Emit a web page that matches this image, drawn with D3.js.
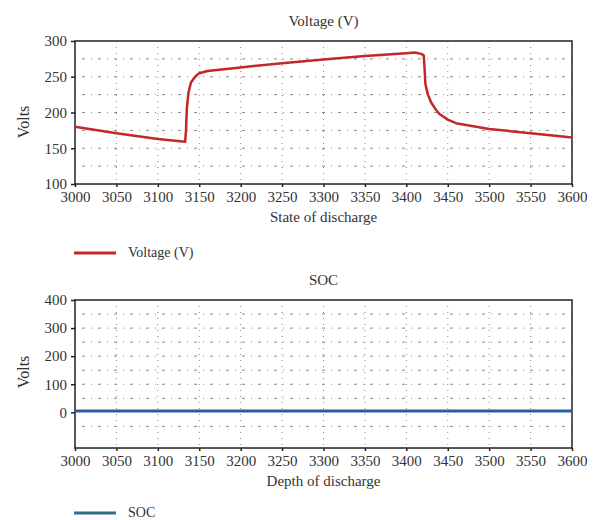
<!DOCTYPE html>
<html>
<head>
<meta charset="utf-8">
<script src="https://cdn.jsdelivr.net/npm/d3@7"></script>
<style>
  body { margin: 0; background: #fff; }
  text { font-family: "Liberation Serif", "DejaVu Serif", serif; fill: #333; }
</style>
</head>
<body>
<svg width="598" height="520"></svg>
<script>
// voltage curve (state of discharge vs volts)
const voltX = [3000, 3050, 3100, 3133, 3134, 3135, 3137, 3140, 3145, 3150, 3160, 3200, 3250, 3300, 3350, 3400, 3410, 3418, 3421, 3422, 3423, 3426, 3430, 3435, 3440, 3450, 3460, 3500, 3550, 3600];
const voltY = [180, 171, 163, 159, 175, 205, 228, 242, 250, 255, 258, 263, 269, 274, 279, 283, 284, 282, 280, 262, 240, 225, 214, 205, 198, 190, 185, 177, 171, 165];

// SOC (depth of discharge) - flat near zero
const socX = [3000, 3600];
const socY = [5, 5];

const xTicks = [3000, 3050, 3100, 3150, 3200, 3250, 3300, 3350, 3400, 3450, 3500, 3550, 3600];
const voltTicks = [100, 150, 200, 250, 300];
const voltGrid = [125, 150, 175, 200, 225, 250, 275];
const socTicks = [0, 100, 200, 300, 400];
const socGrid = [-50, 50, 100, 150, 200, 250, 300, 350];

const plotLeft = 75, plotRight = 572;

const svg = d3.select("svg");

function drawPanel(opt) {
    const g = svg.append("g");
    const x = d3.scaleLinear().domain([3000, 3600]).range([plotLeft, plotRight]);
    const y = d3.scaleLinear().domain(opt.yDomain).range([opt.bottom, opt.top]);

    // dotted grid
    g.selectAll(".vgrid").data(xTicks.slice(1, -1)).enter().append("line")
        .attr("x1", d => x(d)).attr("x2", d => x(d))
        .attr("y1", opt.top).attr("y2", opt.bottom)
        .attr("stroke", "#888").attr("stroke-width", 1)
        .attr("stroke-dasharray", "1,5");
    g.selectAll(".hgrid").data(opt.grid).enter().append("line")
        .attr("x1", plotLeft).attr("x2", plotRight)
        .attr("y1", d => y(d)).attr("y2", d => y(d))
        .attr("stroke", "#888").attr("stroke-width", 1)
        .attr("stroke-dasharray", "1,6,3,6");

    // axes
    const xAxis = d3.axisBottom(x).tickValues(xTicks).tickSize(3).tickFormat(d3.format("d"));
    g.append("g")
        .attr("transform", `translate(0, ${opt.bottom})`)
        .call(xAxis)
        .call(a => a.select(".domain").remove())
        .selectAll("text")
            .attr("font-size", "15px")
            .attr("y", 7);

    const yAxis = d3.axisLeft(y).tickValues(opt.ticks).tickSize(4);
    g.append("g")
        .attr("transform", `translate(${plotLeft}, 0)`)
        .call(yAxis)
        .call(a => a.select(".domain").remove())
        .selectAll("text")
            .attr("font-size", "15px")
            .attr("x", -8);

    g.selectAll(".tick line").attr("stroke", "#222").attr("stroke-width", 1.5);

    // frame
    g.append("rect")
        .attr("x", plotLeft).attr("y", opt.top)
        .attr("width", plotRight - plotLeft).attr("height", opt.bottom - opt.top)
        .attr("fill", "none").attr("stroke", "#222").attr("stroke-width", 1.5);

    // line
    const line = d3.line().x(d => x(d[0])).y(d => y(d[1]));
    g.append("path")
        .datum(opt.xs.map((d, i) => [d, opt.ys[i]]))
        .attr("d", line)
        .attr("fill", "none")
        .attr("stroke", opt.color)
        .attr("stroke-width", opt.lineWidth)
        .attr("stroke-linejoin", "round");

    // title
    g.append("text")
        .attr("x", (plotLeft + plotRight) / 2)
        .attr("y", opt.top - 15)
        .attr("font-size", "15px")
        .attr("text-anchor", "middle")
        .text(opt.title);

    // X label
    g.append("text")
        .attr("x", (plotLeft + plotRight) / 2)
        .attr("y", opt.bottom + 38)
        .attr("font-size", "15px")
        .attr("text-anchor", "middle")
        .text(opt.xLabel);

    // Y label
    g.append("text")
        .attr("x", -opt.yLabelY)
        .attr("y", 29)
        .attr("font-size", "16px")
        .attr("text-anchor", "middle")
        .attr("transform", "rotate(-90)")
        .text("Volts");

    // legend
    g.append("line")
        .attr("x1", 74).attr("x2", 116)
        .attr("y1", opt.legendY).attr("y2", opt.legendY)
        .attr("stroke", opt.legendColor).attr("stroke-width", 3);
    g.append("text")
        .attr("x", 128)
        .attr("y", opt.legendY + 4)
        .attr("font-size", "14px")
        .text(opt.title);
}

drawPanel({
    top: 41, bottom: 184, yDomain: [100, 300],
    ticks: voltTicks, grid: voltGrid,
    xs: voltX, ys: voltY, color: "#c4262a", lineWidth: 2.5,
    title: "Voltage (V)", xLabel: "State of discharge",
    yLabelY: 122, legendY: 253, legendColor: "#c4262a"
});

drawPanel({
    top: 300, bottom: 448, yDomain: [-127, 400],
    ticks: socTicks, grid: socGrid,
    xs: socX, ys: socY, color: "#2b5ca8", lineWidth: 3,
    title: "SOC", xLabel: "Depth of discharge",
    yLabelY: 372, legendY: 513, legendColor: "#356c8c"
});
</script>
</body>
</html>
